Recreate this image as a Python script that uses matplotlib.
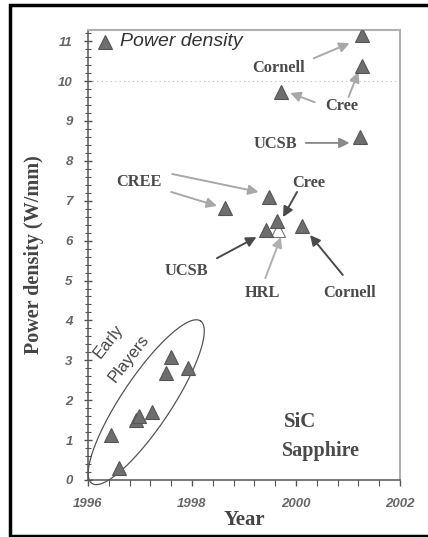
import numpy as np
import matplotlib
matplotlib.use('Agg')
import matplotlib.pyplot as plt
from matplotlib.lines import Line2D

# data
years = [2001.26, 2001.27, 1999.72, 2001.24, 1999.48, 1998.63, 1999.64, 1999.43, 2000.11,
         1996.44, 1996.60, 1996.93, 1996.99, 1997.24, 1997.50, 1997.59, 1997.92]
power = [11.15, 10.38, 9.73, 8.59, 7.09, 6.81, 6.49, 6.27, 6.37,
         1.13, 0.29, 1.50, 1.60, 1.71, 2.67, 3.08, 2.82]
# the half hidden (white) point pointed to by HRL
hrl_year, hrl_power = [1999.66], [6.27]

labels = ['Cornell', 'Cree', 'UCSB', 'CREE', 'Cree', 'UCSB', 'HRL', 'Cornell']
label_x = [1999.66, 2000.88, 1999.60, 1996.97, 2000.25, 1997.90, 1999.35, 2001.03]
label_y = [10.33, 9.37, 8.42, 7.47, 7.44, 5.24, 4.69, 4.69]

# arrows: tail (x0, y0) -> head (x1, y1), shade
arr_x0 = [2000.34, 2001.01, 2000.36, 2000.19, 1997.62, 1997.60, 2000.02, 1998.48, 1999.41, 2000.90]
arr_y0 = [10.57, 9.60, 9.47, 8.45, 7.67, 7.22, 7.22, 5.56, 5.06, 5.14]
arr_x1 = [2001.03, 2001.20, 1999.89, 2001.03, 1999.28, 1998.48, 1999.75, 1999.24, 1999.71, 2000.27]
arr_y1 = [10.95, 10.23, 9.70, 8.45, 7.22, 6.87, 6.59, 6.09, 6.09, 6.14]
arr_col = ['#a8a8a8', '#a8a8a8', '#a8a8a8', '#8a8a8a', '#a8a8a8', '#a8a8a8',
           '#4a4a4a', '#4a4a4a', '#b0b0b0', '#4a4a4a']

fig = plt.figure(figsize=(4.28, 5.37), dpi=100)
ax = fig.add_axes([88/428, 1-480/537, 312/428, 450/537])

ax.plot(years, power, ls='none', marker='^', ms=9.5, mfc='#6e6e6e', mec='#555555', mew=0.8, zorder=5)
ax.plot(hrl_year, hrl_power, ls='none', marker='^', ms=9.5, mfc='white', mec='#777777', mew=0.8, zorder=4)

for x0, y0, x1, y1, c in zip(arr_x0, arr_y0, arr_x1, arr_y1, arr_col):
    ax.annotate('', xy=(x1, y1), xytext=(x0, y0),
                arrowprops=dict(arrowstyle='-|>', color=c, lw=1.4, mutation_scale=15, shrinkA=0, shrinkB=0))

for t, x, y in zip(labels, label_x, label_y):
    ax.text(x, y, t, ha='center', va='center', family='Liberation Serif', weight='bold',
            fontsize=11.8, color='#4a4a4a')

ax.text(2000.08, 1.45, 'SiC', ha='center', va='center', family='Liberation Serif', weight='bold',
        fontsize=15, color='#4a4a4a')
ax.text(2000.48, 0.73, 'Sapphire', ha='center', va='center', family='Liberation Serif', weight='bold',
        fontsize=14.5, color='#4a4a4a')

# legend entry
ax.plot([1996.32], [10.98], ls='none', marker='^', ms=9.5, mfc='#6e6e6e', mec='#555555', mew=0.8)
ax.text(1996.62, 10.98, 'Power density', ha='left', va='center', family='Liberation Sans',
        style='italic', fontsize=14, color='#333333')

# "Early Players" ellipse, drawn as an affine image of a circle in pixel space
ppx, ppy = 52.5, 39.9  # pixels per year / per W/mm
cx, cy = 1997.12, 1.95
ang = np.deg2rad(56)
a_px, b_px = 98, 25
t = np.linspace(0, 2*np.pi, 300)
ex = cx + (a_px*np.cos(t)*np.cos(ang) - b_px*np.sin(t)*np.sin(ang)) / ppx
ey = cy + (a_px*np.cos(t)*np.sin(ang) + b_px*np.sin(t)*np.cos(ang)) / ppy
ax.plot(ex, ey, color='#555555', lw=0.9, clip_on=False)
ax.text(1996.40, 3.47, 'Early', rotation=52, ha='center', va='center', family='Liberation Sans',
        fontsize=12, color='#444444')
ax.text(1996.78, 3.05, 'Players', rotation=52, ha='center', va='center', family='Liberation Sans',
        fontsize=12, color='#444444')

ax.axhline(10, color='#bbbbbb', lw=0.8, ls=(0, (1, 3)), zorder=0)

ax.set_xlim(1996, 2002)
ax.set_ylim(0, 11.28)
ax.set_xticks([1996, 1998, 2000, 2002])
ax.set_xticks(np.arange(1996, 2002.01, 0.4), minor=True)
ax.set_yticks(range(0, 12))
ax.set_yticks(np.arange(0, 11.25, 0.2), minor=True)
for lab in ax.get_xticklabels() + ax.get_yticklabels():
    lab.set_family('Liberation Sans')
    lab.set_style('italic')
    lab.set_weight('bold')
    lab.set_color('#666666')
    lab.set_fontsize(9.5)
ax.tick_params(axis='y', which='major', direction='inout', length=6, width=1, color='#555555', pad=8)
ax.tick_params(axis='y', which='minor', direction='inout', length=4, width=0.8, color='#555555')
ax.tick_params(axis='x', which='major', direction='out', length=4, width=1, color='#555555', pad=9)
ax.tick_params(axis='x', which='minor', direction='out', length=4, width=0.8, color='#555555')

for s in ['left', 'bottom']:
    ax.spines[s].set_color('#555555')
    ax.spines[s].set_linewidth(1.1)
for s in ['top', 'right']:
    ax.spines[s].set_color('#b0b0b0')
    ax.spines[s].set_linewidth(1.5)

ax.set_xlabel('Year', family='Liberation Serif', weight='bold', fontsize=15, color='#444444', labelpad=0)
ax.set_ylabel('Power density (W/mm)', family='Liberation Serif', weight='bold', fontsize=14.5,
              color='#444444', labelpad=10)

# black frame around the picture (open on the right)
fig.add_artist(Line2D([1.0, 9.5/428, 9.5/428, 1.0], [1-4.5/537, 1-4.5/537, 1-535.5/537, 1-535.5/537],
                      transform=fig.transFigure, color='black', lw=2.5, solid_joinstyle='miter'))

fig.savefig('out.png', dpi=100)
